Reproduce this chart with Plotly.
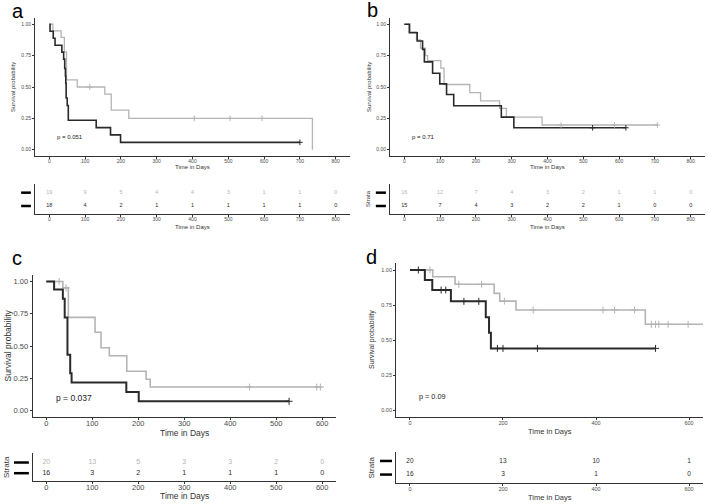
import plotly.graph_objects as go

W, H = 709, 504

# ---------------- DATA ----------------
# Panel a
a_gray_t = [0, 10, 33, 42, 48, 78, 155, 173, 222, 735]
a_gray_s = [1.0, 0.947, 0.895, 0.78, 0.556, 0.5, 0.444, 0.315, 0.25, 0.0]
a_gray_cens_t = [113, 405, 505, 594]
a_gray_cens_s = [0.5, 0.25, 0.25, 0.25]
a_black_t = [0, 2, 11, 16, 35, 40, 43, 45, 46, 47, 50, 53, 131, 171, 199, 700]
a_black_s = [1.0, 0.944, 0.889, 0.833, 0.778, 0.722, 0.647, 0.588, 0.529, 0.412, 0.353, 0.235, 0.176, 0.118, 0.059, 0.059]
a_black_cens_t = [700]
a_black_cens_s = [0.059]
a_pval = "p = 0.051"
a_risk_times = [0, 100, 200, 300, 400, 500, 600, 700, 800]
a_risk_gray = [19, 9, 5, 4, 4, 3, 1, 1, 0]
a_risk_black = [18, 4, 2, 1, 1, 1, 1, 1, 0]

# Panel b
b_gray_t = [0, 16, 34, 45, 59, 65, 102, 111, 183, 213, 266, 285, 385, 707]
b_gray_s = [1.0, 0.94, 0.875, 0.81, 0.75, 0.71, 0.65, 0.52, 0.455, 0.39, 0.33, 0.26, 0.197, 0.197]
b_gray_cens_t = [438, 587, 707]
b_gray_cens_s = [0.197, 0.197, 0.197]
b_black_t = [0, 14, 36, 51, 56, 79, 99, 118, 138, 271, 306, 619]
b_black_s = [1.0, 0.933, 0.867, 0.80, 0.70, 0.61, 0.525, 0.44, 0.35, 0.26, 0.175, 0.175]
b_black_cens_t = [526, 619]
b_black_cens_s = [0.175, 0.175]
b_pval = "p = 0.71"
b_risk_times = [0, 100, 200, 300, 400, 500, 600, 700, 800]
b_risk_gray = [16, 12, 7, 4, 3, 2, 1, 1, 0]
b_risk_black = [15, 7, 4, 3, 2, 2, 1, 0, 0]

# Panel c
c_gray_t = [0, 36, 48, 106, 119, 137, 175, 217, 226, 600]
c_gray_s = [1.0, 0.95, 0.722, 0.607, 0.486, 0.425, 0.304, 0.243, 0.182, 0.182]
c_gray_cens_t = [28, 43, 442, 588, 596]
c_gray_cens_s = [1.0, 0.95, 0.182, 0.182, 0.182]
c_black_t = [0, 17, 36, 40, 46, 52, 55, 174, 201, 528]
c_black_s = [1.0, 0.9375, 0.866, 0.72, 0.433, 0.289, 0.217, 0.144, 0.072, 0.072]
c_black_cens_t = [528]
c_black_cens_s = [0.072]
c_pval = "p = 0.037"
c_risk_times = [0, 100, 200, 300, 400, 500, 600]
c_risk_gray = [20, 13, 5, 3, 3, 2, 0]
c_risk_black = [16, 3, 2, 1, 1, 1, 0]

# Panel d
d_gray_t = [0, 49, 97, 181, 193, 228, 506, 640]
d_gray_s = [1.0, 0.952, 0.898, 0.833, 0.778, 0.714, 0.612, 0.612]
d_gray_cens_t = [43, 105, 154, 203, 265, 415, 440, 483, 519, 528, 535, 555, 598]
d_gray_cens_s = [1.0, 0.898, 0.898, 0.778, 0.714, 0.714, 0.714, 0.714, 0.612, 0.612, 0.612, 0.612, 0.612]
d_black_t = [0, 32, 48, 88, 163, 170, 174, 528]
d_black_s = [1.0, 0.929, 0.857, 0.776, 0.662, 0.552, 0.44, 0.44]
d_black_cens_t = [18, 67, 77, 116, 148, 188, 200, 274, 528]
d_black_cens_s = [1.0, 0.857, 0.857, 0.776, 0.776, 0.44, 0.44, 0.44, 0.44]
d_pval = "p = 0.09"
d_risk_times = [0, 200, 400, 600]
d_risk_gray = [20, 13, 10, 1]
d_risk_black = [16, 3, 1, 0]

y_ticks = [0, 0.25, 0.5, 0.75, 1.0]
y_ticklabels = ["0.00", "0.25", "0.50", "0.75", "1.00"]
x_title = "Time in Days"
y_title = "Survival probability"
strata_title = "Strata"

GRAY = "#b4b4b4"
BLACK = "#2a2a2a"
FONT = "Liberation Sans, Arial, sans-serif"

panels = [
    dict(letter="a", gt=a_gray_t, gs=a_gray_s, gct=a_gray_cens_t, gcs=a_gray_cens_s,
         bt=a_black_t, bs=a_black_s, bct=a_black_cens_t, bcs=a_black_cens_s, p=a_pval,
         rt=a_risk_times, rg=a_risk_gray, rb=a_risk_black,
         xr=[-40, 840], xticks=list(range(0, 801, 100)),
         plot=(35, 350, 18, 156), table=(35, 350, 184, 214), trange=[-0.6, 1.65],
         tick=5, title=6, ytitle=6, pfs=6, risk=5.5, strata=None, rg_color=GRAY,
         letter_xy=(10, 11), ytitle_x=13, xtitle_y=167.5, ttitle_y=227.5,
         bar=(-0.044, -0.013), lw_b=1.6, lw_g=1.3, cs=4, stand=-2),
    dict(letter="b", gt=b_gray_t, gs=b_gray_s, gct=b_gray_cens_t, gcs=b_gray_cens_s,
         bt=b_black_t, bs=b_black_s, bct=b_black_cens_t, bcs=b_black_cens_s, p=b_pval,
         rt=b_risk_times, rg=b_risk_gray, rb=b_risk_black,
         xr=[-40, 840], xticks=list(range(0, 801, 100)),
         plot=(390, 705, 18, 156), table=(390, 705, 184, 214), trange=[-0.6, 1.65],
         tick=5, title=6, ytitle=6, pfs=6, risk=5.5, strata=(368, 6), rg_color=GRAY,
         letter_xy=(365, 10), ytitle_x=369, xtitle_y=167.5, ttitle_y=227.5,
         bar=(-0.045, -0.013), lw_b=1.6, lw_g=1.3, cs=4, stand=-2),
    dict(letter="c", gt=c_gray_t, gs=c_gray_s, gct=c_gray_cens_t, gcs=c_gray_cens_s,
         bt=c_black_t, bs=c_black_s, bct=c_black_cens_t, bcs=c_black_cens_s, p=c_pval,
         rt=c_risk_times, rg=c_risk_gray, rb=c_risk_black,
         xr=[-30, 630], xticks=list(range(0, 601, 100)),
         plot=(32.5, 336, 275, 417), table=(32.5, 336, 453, 481), trange=[-0.73, 1.89],
         tick=7.5, title=8.5, ytitle=8.5, pfs=8.5, risk=7, strata=(6, 8), rg_color=GRAY,
         letter_xy=(10, 258), ytitle_x=7.5, xtitle_y=432.5, ttitle_y=496,
         bar=(-0.061, -0.012), lw_b=2, lw_g=1.6, cs=5, stand=-3),
    dict(letter="d", gt=d_gray_t, gs=d_gray_s, gct=d_gray_cens_t, gcs=d_gray_cens_s,
         bt=d_black_t, bs=d_black_s, bct=d_black_cens_t, bcs=d_black_cens_s, p=d_pval,
         rt=d_risk_times, rg=d_risk_gray, rb=d_risk_black,
         xr=[-30, 630], xticks=[0, 200, 400, 600],
         plot=(396, 703, 263, 417), table=(396, 703, 452, 483), trange=[-0.62, 1.66],
         tick=5.5, title=7.5, ytitle=7, pfs=7.3, risk=6.5, strata=(371, 8), rg_color=BLACK,
         letter_xy=(364, 256.5), ytitle_x=372, xtitle_y=431, ttitle_y=497,
         bar=(-0.052, -0.013), lw_b=2, lw_g=1.6, cs=5, stand=-2),
]

fig = go.Figure()
layout = dict(width=W, height=H, margin=dict(l=0, r=0, t=0, b=0),
              paper_bgcolor="white", plot_bgcolor="white", showlegend=False,
              font=dict(family=FONT, color="#333"))
annotations = []
shapes = []


def dx(x0, x1):
    return [x0 / W, x1 / W]


def dy(top, bot):
    return [1 - bot / H, 1 - top / H]


def axis_common(size):
    return dict(showline=True, linecolor="#333", linewidth=0.8, ticks="outside",
                ticklen=2, tickwidth=0.8, tickcolor="#333", showgrid=False,
                zeroline=False, tickfont=dict(size=size, color="#4a4a4a", family=FONT))


for i, P in enumerate(panels):
    pi = i + 1          # plot axes index
    ti = i + 5          # table axes index
    xa, ya = f"x{pi}", f"y{pi}"
    xt, yt = f"x{ti}", f"y{ti}"
    # curves
    fig.add_trace(go.Scatter(x=P["gt"], y=P["gs"], mode="lines", line_shape="hv",
                             line=dict(color=GRAY, width=P["lw_g"]), xaxis=xa, yaxis=ya))
    fig.add_trace(go.Scatter(x=P["bt"], y=P["bs"], mode="lines", line_shape="hv",
                             line=dict(color=BLACK, width=P["lw_b"]), xaxis=xa, yaxis=ya))
    fig.add_trace(go.Scatter(x=P["gct"], y=P["gcs"], mode="markers",
                             marker=dict(symbol="cross-thin", size=P["cs"], color=GRAY,
                                         line=dict(color=GRAY, width=1)), xaxis=xa, yaxis=ya))
    fig.add_trace(go.Scatter(x=P["bct"], y=P["bcs"], mode="markers",
                             marker=dict(symbol="cross-thin", size=P["cs"], color=BLACK,
                                         line=dict(color=BLACK, width=1)), xaxis=xa, yaxis=ya))
    # risk table
    fig.add_trace(go.Scatter(x=P["rt"], y=[1] * len(P["rt"]), mode="text",
                             text=[str(v) for v in P["rg"]],
                             textfont=dict(size=P["risk"], color=P["rg_color"], family=FONT),
                             xaxis=xt, yaxis=yt))
    fig.add_trace(go.Scatter(x=P["rt"], y=[0] * len(P["rt"]), mode="text",
                             text=[str(v) for v in P["rb"]],
                             textfont=dict(size=P["risk"], color=BLACK, family=FONT),
                             xaxis=xt, yaxis=yt))

    px0, px1, ptop, pbot = P["plot"]
    tx0, tx1, ttop, tbot = P["table"]
    k = "" if pi == 1 else str(pi)
    kt = str(ti)
    xa_cfg = axis_common(P["tick"])
    xa_cfg.update(domain=dx(px0, px1), range=P["xr"], anchor=ya, tickvals=P["xticks"],
                  ticklabelstandoff=P["stand"])
    ya_cfg = axis_common(P["tick"])
    ya_cfg.update(domain=dy(ptop, pbot), range=[-0.05, 1.05], anchor=xa,
                  tickvals=y_ticks, ticktext=y_ticklabels)
    layout["xaxis" + k] = xa_cfg
    layout["yaxis" + k] = ya_cfg
    xt_cfg = axis_common(P["tick"])
    xt_cfg.update(domain=dx(tx0, tx1), range=P["xr"], anchor=yt, tickvals=P["xticks"],
                  ticklabelstandoff=P["stand"])
    yt_cfg = dict(showline=True, linecolor="#333", linewidth=0.8, ticks="",
                  showticklabels=False, showgrid=False, zeroline=False,
                  domain=dy(ttop, tbot), range=P["trange"], anchor=xt)
    layout["xaxis" + kt] = xt_cfg
    layout["yaxis" + kt] = yt_cfg

    # legend bars of the risk table
    for row in (0, 1):
        shapes.append(dict(type="line", xref=f"x{ti} domain", yref=yt,
                           x0=P["bar"][0], x1=P["bar"][1], y0=row, y1=row,
                           line=dict(color="black", width=2.5)))

    # titles / labels
    annotations.append(dict(text=P["letter"], xref="paper", yref="paper",
                            x=P["letter_xy"][0] / W, y=1 - P["letter_xy"][1] / H,
                            xanchor="left", yanchor="middle", showarrow=False,
                            font=dict(size=20, color="black", family=FONT)))
    annotations.append(dict(text=x_title, xref="paper", yref="paper",
                            x=(px0 + px1) / 2 / W, y=1 - P["xtitle_y"] / H,
                            xanchor="center", yanchor="middle", showarrow=False,
                            font=dict(size=P["title"], color="#333", family=FONT)))
    annotations.append(dict(text=x_title, xref="paper", yref="paper",
                            x=(tx0 + tx1) / 2 / W, y=1 - P["ttitle_y"] / H,
                            xanchor="center", yanchor="middle", showarrow=False,
                            font=dict(size=P["title"], color="#333", family=FONT)))
    annotations.append(dict(text=y_title, xref="paper", yref="paper",
                            x=P["ytitle_x"] / W, y=1 - (ptop + pbot) / 2 / H,
                            xanchor="center", yanchor="middle", showarrow=False,
                            textangle=-90,
                            font=dict(size=P["ytitle"], color="#333", family=FONT)))
    if P["strata"]:
        sx, sfs = P["strata"]
        annotations.append(dict(text=strata_title, xref="paper", yref="paper",
                                x=sx / W, y=1 - (ttop + tbot) / 2 / H,
                                xanchor="center", yanchor="middle", showarrow=False,
                                textangle=-90,
                                font=dict(size=sfs, color="#333", family=FONT)))
    annotations.append(dict(text=P["p"], xref=xa, yref=ya, x=16, y=0.1,
                            xanchor="left", yanchor="middle", showarrow=False,
                            font=dict(size=P["pfs"], color="#222", family=FONT)))

layout["annotations"] = annotations
layout["shapes"] = shapes
fig.update_layout(**layout)
fig.write_html("out.html", config={"displayModeBar": False},
               post_script="document.body.style.margin='0px';document.body.style.overflow='hidden';")
